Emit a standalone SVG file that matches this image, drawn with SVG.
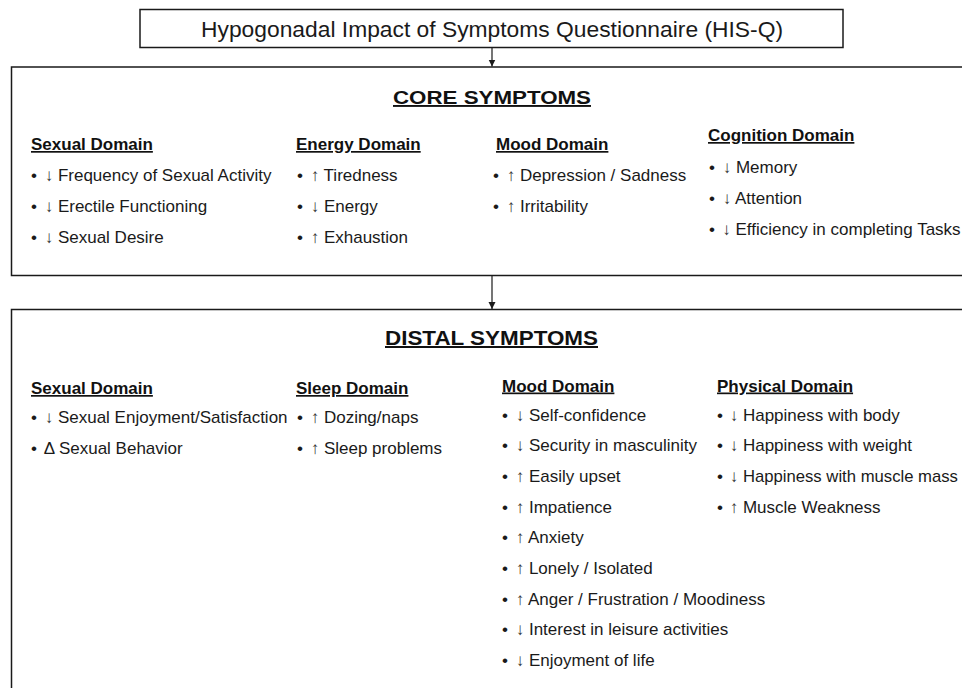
<svg xmlns="http://www.w3.org/2000/svg" width="962" height="688" viewBox="0 0 962 688">
<style>
.box{fill:#fff;stroke:#1a1a1a;stroke-width:1.5}
.title{font-family:"Liberation Sans",Arial,sans-serif;font-size:22px;fill:#1a1a1a}
.sec{font-family:"Liberation Sans",Arial,sans-serif;font-weight:bold;fill:#111;text-decoration:underline}
.hd{font-family:"Liberation Sans",Arial,sans-serif;font-weight:bold;font-size:17px;fill:#111;text-decoration:underline}
.it{font-family:"Liberation Sans",Arial,sans-serif;font-size:17px;fill:#1a1a1a}
.ar{fill:#333}
.conn{stroke:#1a1a1a;stroke-width:1.2;fill:none}
</style>
<defs>
<marker id="ah" markerWidth="8" markerHeight="8" refX="7" refY="4" orient="auto" markerUnits="userSpaceOnUse">
<path d="M0,0.5 L7,4 L0,7.5 Z" fill="#1a1a1a"/>
</marker>
</defs>
<g id="connectors">
<line class="conn" x1="492" y1="47.5" x2="492" y2="66.5" marker-end="url(#ah)"/>
<line class="conn" x1="492" y1="275.5" x2="492" y2="309" marker-end="url(#ah)"/>
</g>
<g id="his-q">
<rect class="box" x="140" y="9.5" width="703" height="38"/>
<text class="title" x="201" y="36.5" textLength="582" lengthAdjust="spacingAndGlyphs">Hypogonadal Impact of Symptoms Questionnaire (HIS-Q)</text>
</g>
<g id="core">
<rect class="box" x="11.5" y="67" width="970" height="208.5"/>
<text class="sec" x="393" y="104" font-size="19" textLength="198" lengthAdjust="spacingAndGlyphs">CORE SYMPTOMS</text>
<text class="hd" x="31" y="150">Sexual Domain</text>
<text class="it" x="31" y="181">•<tspan class="ar" dx="3"> ↓</tspan> Frequency of Sexual Activity</text>
<text class="it" x="31" y="212">•<tspan class="ar" dx="3"> ↓</tspan> Erectile Functioning</text>
<text class="it" x="31" y="243">•<tspan class="ar" dx="3"> ↓</tspan> Sexual Desire</text>
<text class="hd" x="296" y="150">Energy Domain</text>
<text class="it" x="297" y="181">•<tspan class="ar" dx="3"> ↑</tspan> Tiredness</text>
<text class="it" x="297" y="212">•<tspan class="ar" dx="3"> ↓</tspan> Energy</text>
<text class="it" x="297" y="243">•<tspan class="ar" dx="3"> ↑</tspan> Exhaustion</text>
<text class="hd" x="496" y="150">Mood Domain</text>
<text class="it" x="493" y="181">•<tspan class="ar" dx="3"> ↑</tspan> Depression / Sadness</text>
<text class="it" x="493" y="212">•<tspan class="ar" dx="3"> ↑</tspan> Irritability</text>
<text class="hd" x="708" y="141">Cognition Domain</text>
<text class="it" x="709" y="173">•<tspan class="ar" dx="3"> ↓</tspan> Memory</text>
<text class="it" x="709" y="204">•<tspan class="ar" dx="3"> ↓</tspan> Attention</text>
<text class="it" x="709" y="235">•<tspan class="ar" dx="2.5"> ↓</tspan> Efficiency in completing Tasks</text>
</g>
<g id="distal">
<rect class="box" x="11.5" y="309.5" width="970" height="400"/>
<text class="sec" x="385" y="345" font-size="20" textLength="213" lengthAdjust="spacingAndGlyphs">DISTAL SYMPTOMS</text>
<text class="hd" x="31" y="394">Sexual Domain</text>
<text class="it" x="31" y="423">•<tspan class="ar" dx="3"> ↓</tspan> Sexual Enjoyment/Satisfaction</text>
<text class="it" x="31" y="453.5">•<tspan dx="3"> Δ</tspan> Sexual Behavior</text>
<text class="hd" x="296" y="394">Sleep Domain</text>
<text class="it" x="297" y="423">•<tspan class="ar" dx="3"> ↑</tspan> Dozing/naps</text>
<text class="it" x="297" y="453.5">•<tspan class="ar" dx="3"> ↑</tspan> Sleep problems</text>
<text class="hd" x="502" y="391.5">Mood Domain</text>
<text class="it" x="502" y="420.5">•<tspan class="ar" dx="3"> ↓</tspan> Self-confidence</text>
<text class="it" x="502" y="451.2">•<tspan class="ar" dx="3"> ↓</tspan> Security in masculinity</text>
<text class="it" x="502" y="481.9">•<tspan class="ar" dx="3"> ↑</tspan> Easily upset</text>
<text class="it" x="502" y="512.6">•<tspan class="ar" dx="3"> ↑</tspan> Impatience</text>
<text class="it" x="502" y="543.3">•<tspan class="ar" dx="3"> ↑</tspan> Anxiety</text>
<text class="it" x="502" y="574">•<tspan class="ar" dx="3"> ↑</tspan> Lonely / Isolated</text>
<text class="it" x="502" y="604.7">•<tspan class="ar" dx="3"> ↑</tspan> Anger / Frustration / Moodiness</text>
<text class="it" x="502" y="635.4">•<tspan class="ar" dx="3"> ↓</tspan> Interest in leisure activities</text>
<text class="it" x="502" y="666.1">•<tspan class="ar" dx="3"> ↓</tspan> Enjoyment of life</text>
<text class="hd" x="717" y="391.5">Physical Domain</text>
<text class="it" x="717" y="420.5">•<tspan class="ar" dx="2"> ↓</tspan> Happiness with body</text>
<text class="it" x="717" y="451.2">•<tspan class="ar" dx="2"> ↓</tspan> Happiness with weight</text>
<text class="it" x="717" y="481.9">•<tspan class="ar" dx="2"> ↓</tspan> <tspan textLength="215" lengthAdjust="spacingAndGlyphs">Happiness with muscle mass</tspan></text>
<text class="it" x="717" y="512.6">•<tspan class="ar" dx="2"> ↑</tspan> Muscle Weakness</text>
</g>
</svg>
